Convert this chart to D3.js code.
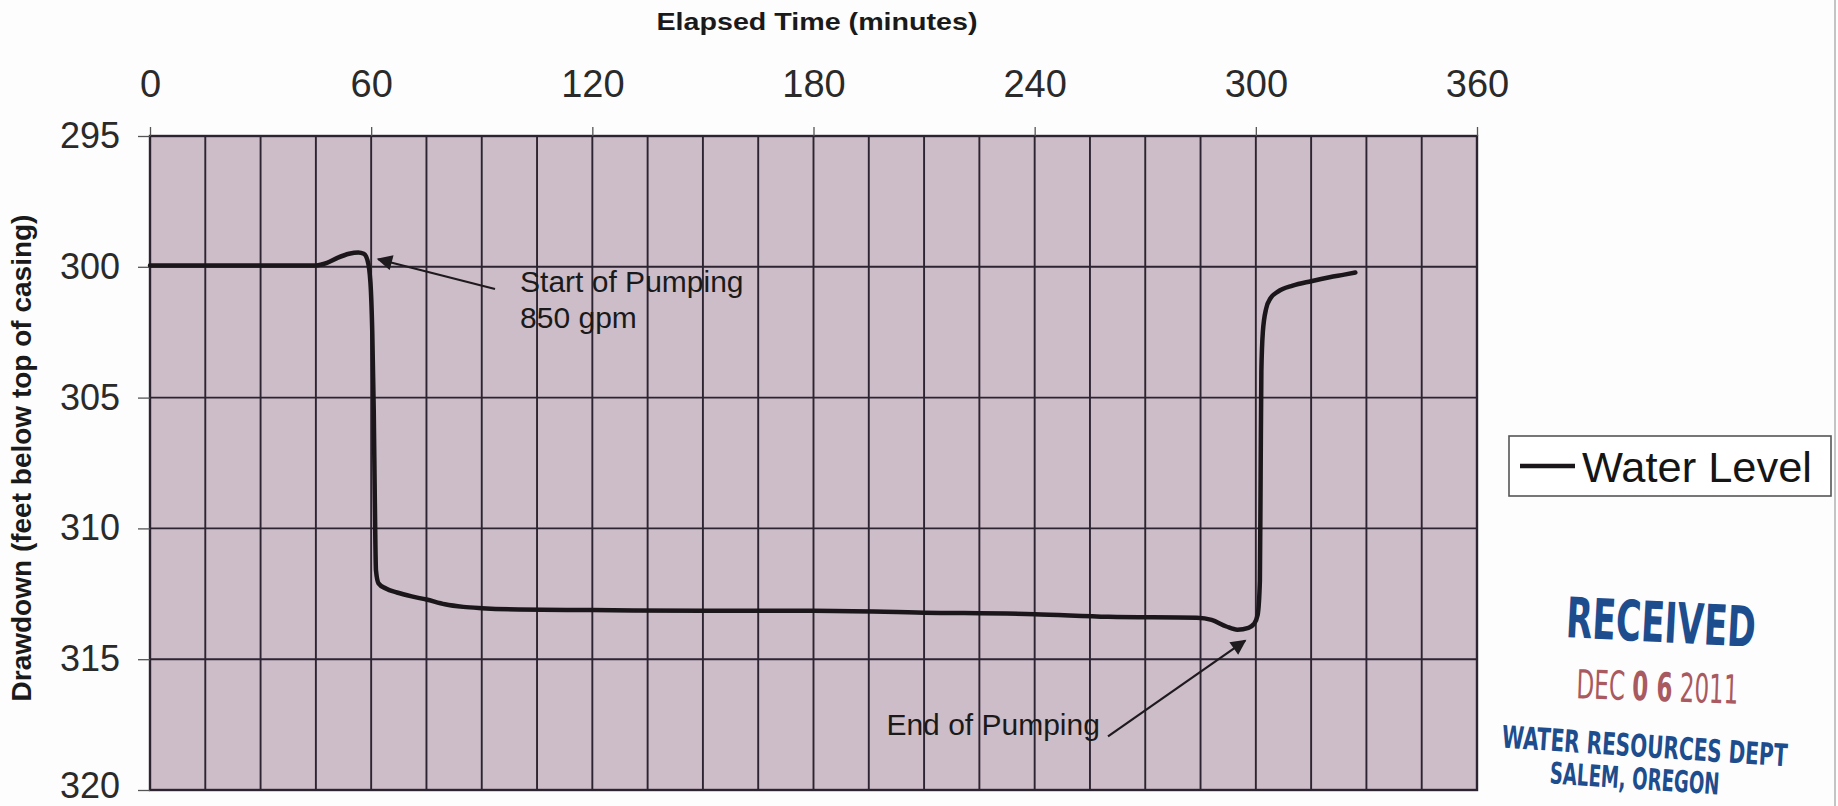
<!DOCTYPE html>
<html>
<head>
<meta charset="utf-8">
<script src="https://cdn.jsdelivr.net/npm/d3@7"></script>
<style>
  html, body { margin: 0; padding: 0; background: #fdfdfd; }
  svg { display: block; }
</style>
</head>
<body>
<svg id="chart" width="1838" height="806"></svg>
<script>
// ---- data ----
const timeMinutes = [0, 15, 30, 45, 48, 51, 54, 56.5, 58, 59, 59.8, 60.3, 60.7, 61, 61.3, 62, 64, 67, 71, 75, 80, 85, 90, 100, 120, 150, 180, 210, 240, 260, 284, 288, 292, 295, 298, 299.5, 300.5, 301.1, 301.3, 301.5, 301.9, 302.8, 304, 306, 310, 315, 320, 324, 327];
const waterLevel = [299.95, 299.95, 299.95, 299.95, 299.85, 299.65, 299.5, 299.45, 299.5, 299.75, 300.6, 302.5, 305.5, 309, 311.6, 312.1, 312.3, 312.45, 312.6, 312.72, 312.9, 313.0, 313.05, 313.1, 313.12, 313.15, 313.15, 313.22, 313.28, 313.38, 313.42, 313.5, 313.75, 313.87, 313.8, 313.65, 313.3, 312.0, 308.0, 304.0, 302.5, 301.6, 301.2, 300.95, 300.72, 300.55, 300.4, 300.3, 300.22];
const xTicks = [0, 60, 120, 180, 240, 300, 360];
const yTicks = [295, 300, 305, 310, 315, 320];
const xGrid = d3.range(15, 360, 15);
const yGrid = [300, 305, 310, 315];
const seriesName = "Water Level";
const xTitle = "Elapsed Time (minutes)";
const yTitle = "Drawdown (feet below top of casing)";
const annotations = [
  { lines: ["Start of Pumping", "850 gpm"], tx: 100.4, tv: 300.95, lineGap: 36.5, from: [93.6, 300.85], to: [61.9, 299.71] },
  { lines: ["End of Pumping"], tx: 257.7, tv: 317.9, lineGap: 0, from: [259.9, 317.95], to: [297.1, 314.29], anchorEnd: true }
];

// ---- layout ----
const svg = d3.select("#chart");
const x = d3.scaleLinear().domain([0, 360]).range([150, 1477]);
const y = d3.scaleLinear().domain([295, 320]).range([136, 790]);
const gridColor = "#2c2430";
const tickFont = "Liberation Sans, Arial, Helvetica, sans-serif";

// plot background
svg.append("rect")
  .attr("x", x(0)).attr("y", y(295))
  .attr("width", x(360) - x(0)).attr("height", y(320) - y(295))
  .attr("fill", "#ccbdc9");

// gridlines
svg.append("g").selectAll("line").data(xGrid).join("line")
  .attr("x1", d => x(d)).attr("x2", d => x(d))
  .attr("y1", y(295)).attr("y2", y(320))
  .attr("stroke", gridColor).attr("stroke-width", 1.9);
svg.append("g").selectAll("line").data(yGrid).join("line")
  .attr("x1", x(0)).attr("x2", x(360))
  .attr("y1", d => y(d)).attr("y2", d => y(d))
  .attr("stroke", gridColor).attr("stroke-width", 1.9);

// border
svg.append("rect")
  .attr("x", x(0)).attr("y", y(295))
  .attr("width", x(360) - x(0)).attr("height", y(320) - y(295))
  .attr("fill", "none").attr("stroke", gridColor).attr("stroke-width", 2.4);

// axes
const xAxis = svg.append("g").attr("transform", `translate(0,${y(295)})`)
  .call(d3.axisTop(x).tickValues(xTicks).tickSize(9).tickPadding(30).tickFormat(d3.format("d")));
const yAxis = svg.append("g").attr("transform", `translate(${x(0)},0)`)
  .call(d3.axisLeft(y).tickValues(yTicks).tickSize(12).tickPadding(18).tickFormat(d3.format("d")));
[xAxis, yAxis].forEach(g => {
  g.select(".domain").remove();
  g.selectAll(".tick line").attr("stroke", "#555").attr("stroke-width", 1.3);
  g.selectAll(".tick text").attr("font-family", tickFont).attr("font-size", 36).attr("fill", "#2a2a2a");
});
xAxis.selectAll(".tick text").attr("font-size", 38);
yAxis.selectAll(".tick text").attr("dy", d => d === 320 ? "0.2em" : "0.32em");

// axis titles
svg.append("text")
  .attr("x", 817).attr("y", 30)
  .attr("text-anchor", "middle")
  .attr("font-family", tickFont).attr("font-weight", "bold").attr("font-size", 24)
  .attr("textLength", 321).attr("lengthAdjust", "spacingAndGlyphs")
  .attr("fill", "#1a1a1a")
  .text(xTitle);
svg.append("text")
  .attr("transform", "translate(31,458) rotate(-90)")
  .attr("text-anchor", "middle")
  .attr("font-family", tickFont).attr("font-weight", "bold").attr("font-size", 28)
  .attr("fill", "#1a1a1a")
  .text(yTitle);

// water level line
const line = d3.line()
  .x((d, i) => x(timeMinutes[i]))
  .y(d => y(d))
  .curve(d3.curveMonotoneX);
svg.append("path")
  .datum(waterLevel)
  .attr("d", line)
  .attr("fill", "none")
  .attr("stroke", "#1a1619")
  .attr("stroke-width", 4.5)
  .attr("stroke-linejoin", "round")
  .attr("stroke-linecap", "round");

// annotations
svg.append("defs").append("marker")
  .attr("id", "ah").attr("viewBox", "0 0 10 10")
  .attr("refX", 9).attr("refY", 5)
  .attr("markerWidth", 8).attr("markerHeight", 7)
  .attr("markerUnits", "strokeWidth")
  .attr("orient", "auto")
  .append("path").attr("d", "M0,0 L10,5 L0,10 Z").attr("fill", "#1e1a1e");

annotations.forEach(a => {
  svg.append("line")
    .attr("x1", x(a.from[0])).attr("y1", y(a.from[1]))
    .attr("x2", x(a.to[0])).attr("y2", y(a.to[1]))
    .attr("stroke", "#1e1a1e").attr("stroke-width", 2.2)
    .attr("marker-end", "url(#ah)");
  const t = svg.append("text")
    .attr("font-family", tickFont).attr("font-size", 30).attr("fill", "#1a1a1a")
    .attr("text-anchor", a.anchorEnd ? "end" : "start");
  a.lines.forEach((s, i) => {
    t.append("tspan").attr("x", x(a.tx)).attr("y", y(a.tv) + i * a.lineGap).text(s);
  });
});

// legend
const lg = svg.append("g");
lg.append("rect").attr("x", 1509).attr("y", 436).attr("width", 322).attr("height", 60)
  .attr("fill", "#ffffff").attr("stroke", "#555").attr("stroke-width", 1.6);
lg.append("line").attr("x1", 1520).attr("x2", 1575).attr("y1", 466).attr("y2", 466)
  .attr("stroke", "#1a1619").attr("stroke-width", 4.5);
lg.append("text").attr("x", 1582).attr("y", 482)
  .attr("font-family", tickFont).attr("font-size", 42).attr("fill", "#151515")
  .attr("textLength", 230).attr("lengthAdjust", "spacingAndGlyphs")
  .text(seriesName);

// received stamp (fitted to width with a horizontal scale)
const stampFont = "Liberation Sans Narrow, DejaVu Sans Condensed, Arial Narrow, sans-serif";
const blue = "#1e4d8e";
function stampLine(cx, baseY, angle, size, targetW, color, parts) {
  const g = svg.append("g").attr("transform", `translate(${cx},${baseY}) rotate(${angle})`);
  const t = g.append("text")
    .attr("text-anchor", "middle")
    .attr("font-family", stampFont).attr("font-size", size)
    .attr("fill", color);
  parts.forEach(p => t.append("tspan").attr("font-weight", p.bold ? "bold" : "normal").text(p.s));
  const w = t.node().getComputedTextLength();
  t.attr("transform", `scale(${targetW / w},1)`);
}
stampLine(1660, 642, 3, 56, 190, blue, [{ s: "RECEIVED", bold: true }]);
stampLine(1657, 701, 2, 40, 162, "#a85a60", [{ s: "DEC " }, { s: "0 6", bold: true }, { s: " 2011" }]);
stampLine(1644, 757, 3.8, 31, 286, blue, [{ s: "WATER RESOURCES DEPT", bold: true }]);
stampLine(1634, 789, 3.8, 30, 170, blue, [{ s: "SALEM, OREGON", bold: true }]);

// scan edge
svg.append("line").attr("x1", 1835).attr("x2", 1835).attr("y1", 0).attr("y2", 806)
  .attr("stroke", "#c4c4c4").attr("stroke-width", 2);
</script>
</body>
</html>
